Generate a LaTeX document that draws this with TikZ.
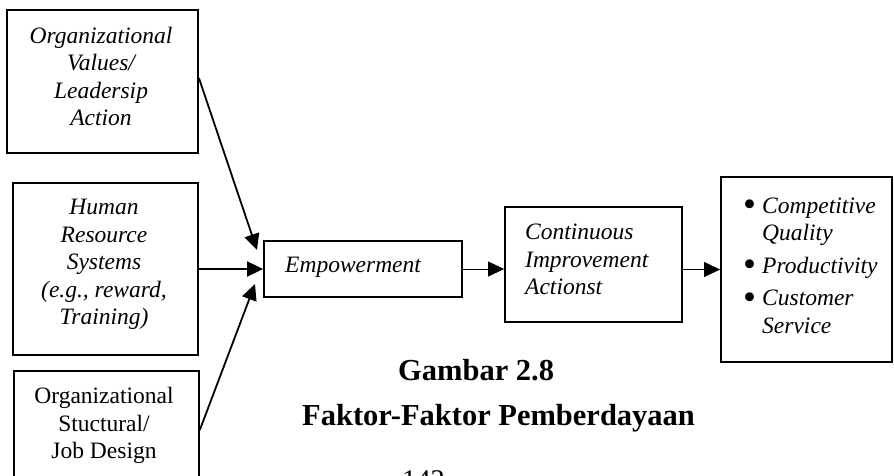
\documentclass[tikz,border=0pt]{standalone}
\usepackage{fontspec}
\setmainfont{Liberation Serif}
\usetikzlibrary{arrows.meta}
% list bullet, set a little larger and lower than the text bullet
\newcommand\blt{\makebox[19pt][l]{\smash{\raisebox{-3.5pt}{\fontsize{37}{37}\selectfont\textbullet}}}}
\begin{document}
\begin{tikzpicture}[x=1pt,y=-1pt,
  box/.style={draw, line width=1.8pt, inner sep=0pt},
  txt/.style={inner sep=0pt, font=\fontsize{23.5}{27.5}\selectfont},
  itx/.style={txt, font=\fontsize{23.5}{27.5}\selectfont\itshape},
  captxt/.style={inner sep=0pt, anchor=base west, font=\fontsize{30.5}{36}\selectfont\bfseries},
  arrowtip/.style={-{Triangle[length=16pt,width=15pt]}},
  boldline/.style={line width=1.8pt},
  thinline/.style={line width=0.8pt}]
\useasboundingbox (0,0) rectangle (894,475);

% input factors
\node[box, minimum width=191pt, minimum height=143pt] (v) at (102.5,81.5) {};
\node[itx, align=center, anchor=north] (vt) at (101,26.7)
  {Organizational\\Values/\\Leadersip\\Action};

\node[box, minimum width=185pt, minimum height=172pt] (h) at (105.5,269) {};
\node[itx, align=center, anchor=north] (ht) at (104,199.4)
  {Human\\Resource\\Systems\\(e.g., reward,\\Training)};

\node[box, minimum width=185pt, minimum height=130pt, anchor=north west] (s) at (13,370) {};
\node[txt, align=center, anchor=north] (st) at (104,387)
  {Organizational\\Stuctural/\\Job Design};

% central chain
\node[box, minimum width=198pt, minimum height=56pt] (emp) at (363,269) {};
\node[itx, anchor=base west] (empt) at (285,272) {Empowerment};

\node[box, minimum width=177pt, minimum height=115pt] (ci) at (593.5,264.5) {};
\node[itx, align=left, anchor=north west] (cit) at (525,224)
  {Continuous\\Improvement\\Actionst};

\node[box, minimum width=171pt, minimum height=185pt] (out) at (806.5,269.5) {};
\node[txt, align=left, anchor=base west] (outt) at (743,333)
  {\blt\textit{Competitive}\\\hphantom{\blt}\textit{Quality}\\[5pt]
   \blt\textit{Productivity}\\[5pt]
   \blt\textit{Customer}\\\hphantom{\blt}\textit{Service}};

% connectors
\coordinate (a1) at (257,250);
\coordinate (a3) at (255,284);
\draw[boldline, arrowtip] ([yshift=3.5pt]v.east) -- (a1);
\draw[boldline, arrowtip] (h.east) -- (emp.west);
\draw[boldline, arrowtip] ([yshift=-60pt]s.north east) -- (a3);
\draw[thinline, arrowtip] (emp.east) -- (emp.east -| ci.west);
\draw[thinline, arrowtip] (out.west -| ci.east) -- (out.west);

% caption
\node[captxt] (g1) at (398,380) {Gambar 2.8};
\node[captxt] (g2) at (302,425) {Faktor-Faktor Pemberdayaan};
\node[inner sep=0pt, anchor=base west, font=\fontsize{28.5}{34}\selectfont] (pg) at (402,489) {142};
\end{tikzpicture}
\end{document}
